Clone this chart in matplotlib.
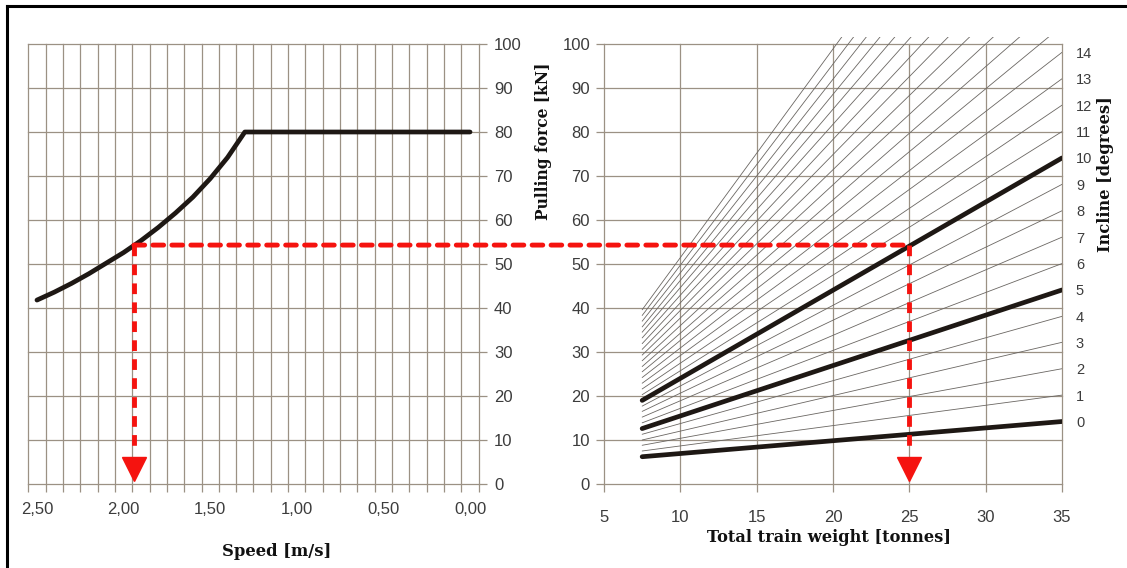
import matplotlib
matplotlib.use("Agg")
import matplotlib.pyplot as plt
from matplotlib.patches import Rectangle, ConnectionPatch
from matplotlib.lines import Line2D
import numpy as np

# ---------------- data ----------------
speed = [2.5, 2.4, 2.3, 2.2, 2.1, 2.0, 1.9, 1.8, 1.7, 1.6, 1.5, 1.4, 1.3, 0.0]
pull_force = [41.8, 43.6, 45.6, 47.8, 50.2, 52.6, 55.3, 58.3, 61.6, 65.2, 69.4, 74.2, 80.0, 80.0]
speed_ticks = [2.5, 2.0, 1.5, 1.0, 0.5, 0.0]
speed_tick_labels = ["2,50", "2,00", "1,50", "1,00", "0,50", "0,00"]

incline_deg = list(range(27))
weight_start = 7.5
weight_end = 35
force_at_start = [6.2, 7.5, 8.8, 10.0, 11.3, 12.6, 13.9, 15.2, 16.5, 17.7, 19.0, 20.3, 21.6, 22.9,
                  24.2, 25.5, 26.7, 28.0, 29.3, 30.6, 31.9, 33.2, 34.5, 35.7, 37.0, 38.3, 39.6]
force_at_end = [14.2, 20.2, 26.2, 32.2, 38.1, 44.1, 50.1, 56.1, 62.1, 68.1, 74.1, 80.1, 86.1, 92.1,
                98.1, 104.1, 110.0, 116.0, 122.0, 128.0, 134.0, 140.0, 146.0, 152.0, 158.0, 164.0, 170.0]
thick_inclines = [0, 5, 10]
incline_labels = [str(d) for d in range(15)]
weight_ticks = [5, 10, 15, 20, 25, 30, 35]
force_ticks = [0, 10, 20, 30, 40, 50, 60, 70, 80, 90, 100]

example_speed = 1.94
example_force = 54.3
example_weight = 25

# ---------------- style ----------------
GRID = "#9b9184"
TXT = "#3c3c3c"
RED = "#f5130f"
CURVE = "#1e1814"
SANS = ["Liberation Sans", "DejaVu Sans"]
SERIF = ["DejaVu Serif", "Liberation Serif"]

W, H = 1127, 568
fig = plt.figure(figsize=(W / 100, H / 100), dpi=100)

def fx(px):
    return px / W

def fy(py):
    return 1 - py / H

y_top, y_bot = 44, 484
ax1 = fig.add_axes([fx(28.3), fy(y_bot), fx(478.7) - fx(28.3), fy(y_top) - fy(y_bot)])
ax2 = fig.add_axes([fx(604), fy(y_bot), fx(1062) - fx(604), fy(y_top) - fy(y_bot)])

# ---------- left panel ----------
ax1.set_xlim(2.55, -0.05)
ax1.set_ylim(0, 100)
minor_x = np.round(np.arange(-0.05, 2.56, 0.1), 2)
for v in minor_x:
    ax1.axvline(v, color=GRID, lw=0.9, zorder=1, clip_on=False)
for v in force_ticks:
    ax1.axhline(v, color=GRID, lw=0.9, zorder=1, clip_on=False)
for s in ax1.spines.values():
    s.set_visible(False)
ax1.set_xticks(speed_ticks)
ax1.set_xticklabels(speed_tick_labels)
ax1.set_xticks(minor_x, minor=True)
ax1.tick_params(axis="x", which="major", length=0, pad=13, labelsize=12, labelcolor=TXT)
ax1.tick_params(axis="x", which="minor", length=6, color=GRID, width=0.9, direction="out")
ax1.yaxis.tick_right()
ax1.set_yticks(force_ticks)
ax1.tick_params(axis="y", which="major", length=6, color=GRID, width=0.9, direction="out",
                pad=5, labelsize=12, labelcolor=TXT, left=False, right=True)
for lab in ax1.get_xticklabels() + ax1.get_yticklabels():
    lab.set_family(SANS)

ax1.plot(speed, pull_force, color=CURVE, lw=3.4, solid_capstyle="round", zorder=4)

# ---------- right panel ----------
ax2.set_xlim(5, 35)
ax2.set_ylim(0, 100)
for v in weight_ticks:
    ax2.axvline(v, color=GRID, lw=0.9, zorder=1, clip_on=False)
for v in force_ticks:
    ax2.axhline(v, color=GRID, lw=0.9, zorder=1, clip_on=False)
for s in ax2.spines.values():
    s.set_visible(False)
ax2.set_xticks(weight_ticks)
ax2.set_yticks(force_ticks)
ax2.tick_params(axis="both", length=6, color=GRID, width=0.9, direction="out",
                labelsize=12, labelcolor=TXT)
ax2.tick_params(axis="x", pad=13)
ax2.tick_params(axis="y", pad=4)
for lab in ax2.get_xticklabels() + ax2.get_yticklabels():
    lab.set_family(SANS)

clip_rect = Rectangle((5, 0), 30, 101.6, transform=ax2.transData)
for d, f0, f1 in zip(incline_deg, force_at_start, force_at_end):
    thick = d in thick_inclines
    ln, = ax2.plot([weight_start, weight_end], [f0, f1],
                   color=CURVE if thick else "#6a6662",
                   lw=3.4 if thick else 0.6,
                   solid_capstyle="round", zorder=4 if thick else 3)
    ln.set_clip_path(clip_rect)

ax3 = ax2.twinx()
ax3.set_ylim(0, 100)
ax3.set_yticks(force_at_end[:15])
ax3.set_yticklabels(incline_labels)
ax3.tick_params(axis="y", length=0, pad=10, labelsize=10.5, labelcolor=TXT)
for lab in ax3.get_yticklabels():
    lab.set_family(SANS)
for s in ax3.spines.values():
    s.set_visible(False)

# ---------- red example path ----------
dash = (0, (2.2, 1.7))
ax1.plot([example_speed, example_speed], [example_force, 7], color=RED, lw=3.5,
         linestyle=dash, zorder=6)
ax2.plot([example_weight, example_weight], [example_force, 7], color=RED, lw=3.5,
         linestyle=dash, zorder=6)
con = ConnectionPatch(xyA=(example_speed, example_force), coordsA=ax1.transData,
                      xyB=(example_weight, example_force), coordsB=ax2.transData,
                      color=RED, lw=3.5, linestyle=dash, zorder=6)
fig.add_artist(con)
ax1.plot([example_speed], [3.3], marker="v", ms=17, color=RED, mec=RED, zorder=7, clip_on=False)
ax2.plot([example_weight], [3.3], marker="v", ms=17, color=RED, mec=RED, zorder=7, clip_on=False)

# ---------- axis titles ----------
fig.text(fx(277), fy(552), "Speed [m/s]", ha="center", va="center",
         fontsize=11.8, fontweight="bold", family=SERIF, color="#111111")
fig.text(fx(829), fy(538), "Total train weight [tonnes]", ha="center", va="center",
         fontsize=11.7, fontweight="bold", family=SERIF, color="#111111")
fig.text(fx(543), fy(141), "Pulling force [kN]", ha="center", va="center", rotation=90,
         fontsize=11.2, fontweight="bold", family=SERIF, color="#111111")
fig.text(fx(1106), fy(174), "Incline [degrees]", ha="center", va="center", rotation=90,
         fontsize=11.7, fontweight="bold", family=SERIF, color="#111111")

# ---------- outer frame ----------
fig.add_artist(Line2D([fx(7), fx(7)], [0, fy(6)], color="black", lw=2.2))
fig.add_artist(Line2D([fx(7), 1], [fy(6), fy(6)], color="black", lw=2.2))

fig.savefig("out.png", dpi=100)
